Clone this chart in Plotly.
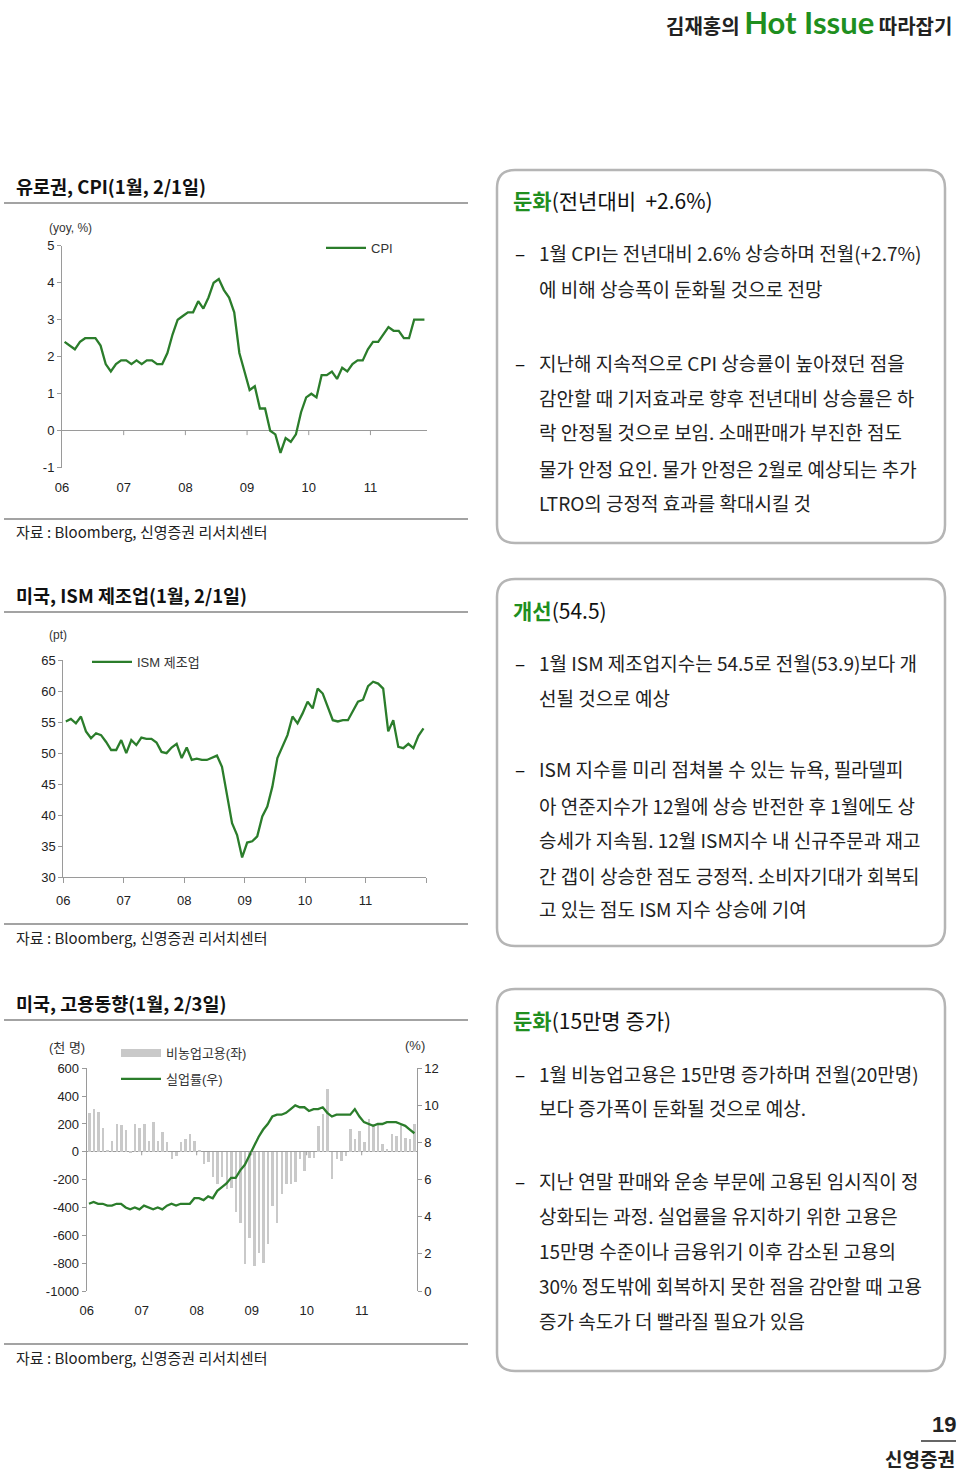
import plotly.graph_objects as go

W, H = 960, 1471
def px(x): return x / W
def py(y): return 1 - y / H

GREEN = '#2b7d2b'
HEAD_GREEN = '#1f8f1f'
AX = '#9a9a9a'
NUMFONT = 'Liberation Sans, Arial, Noto Sans CJK KR'
KR = 'Noto Sans CJK KR'

# ---------------- data ----------------
years = ['06', '07', '08', '09', '10', '11']

# Euro area CPI yoy (%) Jan-06 .. Nov-11
cpi = [2.4, 2.3, 2.2, 2.4, 2.5, 2.5, 2.5, 2.3, 1.8, 1.6, 1.8, 1.9,
       1.9, 1.8, 1.9, 1.8, 1.9, 1.9, 1.8, 1.8, 2.1, 2.6, 3.0, 3.1,
       3.2, 3.2, 3.5, 3.3, 3.6, 4.0, 4.1, 3.8, 3.6, 3.2, 2.1, 1.6,
       1.1, 1.2, 0.6, 0.6, 0.0, -0.1, -0.6, -0.2, -0.3, -0.1, 0.5, 0.9,
       1.0, 0.9, 1.5, 1.5, 1.6, 1.4, 1.7, 1.6, 1.8, 1.9, 1.9, 2.2,
       2.4, 2.4, 2.6, 2.8, 2.7, 2.7, 2.5, 2.5, 3.0, 3.0, 3.0]

# US ISM manufacturing (pt) Jan-06 .. Dec-11
ism = [55.1, 55.5, 54.8, 55.9, 53.5, 52.4, 53.2, 52.9, 51.8, 50.5, 50.5, 52.1,
       50.0, 52.1, 51.3, 52.5, 52.3, 52.3, 51.7, 50.2, 50.0, 50.9, 51.5, 49.2,
       50.9, 48.9, 49.1, 48.9, 48.9, 49.2, 49.6, 47.8, 43.5, 38.7, 36.8, 33.2,
       35.6, 35.8, 36.6, 39.8, 41.4, 44.6, 49.2, 51.0, 52.9, 55.9, 54.8, 56.4,
       58.3, 57.2, 60.4, 59.6, 57.6, 55.3, 55.1, 55.3, 55.3, 56.9, 58.3, 58.6,
       60.8, 61.5, 61.2, 60.4, 53.5, 55.3, 51.0, 50.8, 51.5, 50.8, 52.8, 54.0]

# US nonfarm payrolls change (thousand) Jan-06 .. Dec-11
payrolls = [275, 307, 283, 172, 5, 77, 196, 187, 153, -12, 201, 172,
            196, 77, 211, 77, 139, 67, -53, -29, 67, 91, 125, 77,
            7, -91, -77, -184, -235, -184, -268, -260, -438, -510, -810, -618,
            -821, -726, -798, -666, -390, -510, -307, -235, -235, -220, -53, -137,
            -43, -43, 184, 268, 448, -199, -55, -67, -31, 160, 89, 148,
            65, 235, 196, 196, 53, 17, 125, 108, 196, 100, 91, 196]

# US unemployment rate (%)
unemp = [4.7, 4.8, 4.7, 4.7, 4.6, 4.6, 4.7, 4.7, 4.5, 4.4, 4.5, 4.4,
         4.6, 4.5, 4.4, 4.5, 4.4, 4.6, 4.7, 4.6, 4.7, 4.7, 4.7, 5.0,
         5.0, 4.9, 5.1, 5.0, 5.4, 5.6, 5.8, 6.1, 6.1, 6.5, 6.8, 7.3,
         7.8, 8.3, 8.7, 9.0, 9.4, 9.5, 9.5, 9.6, 9.8, 10.0, 9.9, 9.9,
         9.7, 9.8, 9.8, 9.9, 9.6, 9.4, 9.5, 9.5, 9.5, 9.5, 9.8, 9.4,
         9.1, 9.0, 8.9, 9.0, 9.0, 9.1, 9.1, 9.1, 9.0, 8.9, 8.7, 8.5]

cpi_ticks = [-1, 0, 1, 2, 3, 4, 5]
ism_ticks = [30, 35, 40, 45, 50, 55, 60, 65]
pay_ticks = [-1000, -800, -600, -400, -200, 0, 200, 400, 600]
ur_ticks = [0, 2, 4, 6, 8, 10, 12]

year_bounds = [-0.5 + 12 * k for k in range(7)]

fig = go.Figure()

# ---------------- traces ----------------
fig.add_trace(go.Scatter(x=list(range(len(cpi))), y=cpi, mode='lines', name='CPI',
                         line=dict(color=GREEN, width=2.3), xaxis='x', yaxis='y',
                         legend='legend'))
fig.add_trace(go.Scatter(x=list(range(len(ism))), y=ism, mode='lines', name='ISM 제조업',
                         line=dict(color=GREEN, width=2.3), xaxis='x2', yaxis='y2',
                         legend='legend2'))
fig.add_trace(go.Bar(x=list(range(len(payrolls))), y=payrolls, name='비농업고용(좌)',
                     marker=dict(color='#c9c9c9', line=dict(width=0)), width=0.55,
                     xaxis='x3', yaxis='y3', showlegend=False))
fig.add_trace(go.Scatter(x=[None], y=[None], mode='lines', name='비농업고용(좌)',
                         line=dict(color='#c9c9c9', width=8), xaxis='x3', yaxis='y3',
                         legend='legend3'))
fig.add_trace(go.Scatter(x=list(range(len(unemp))), y=unemp, mode='lines', name='실업률(우)',
                         line=dict(color=GREEN, width=2.3), xaxis='x3', yaxis='y4',
                         legend='legend4'))

tickfont = dict(family=NUMFONT, size=13, color='#222')

def xax(dom, rng, ticks, tlen):
    return dict(domain=dom, range=rng, tickvals=year_bounds[:6] if ticks == '' else year_bounds,
                ticktext=years if ticks == '' else years + [''],
                ticks=ticks, ticklen=tlen, tickcolor=AX, showgrid=False, zeroline=False,
                showline=(ticks != ''), linecolor=AX, linewidth=1, tickfont=tickfont,
                ticklabelstandoff=10 if ticks == '' else 6, fixedrange=True)

def yax(dom, vals, **kw):
    d = dict(range=[vals[0], vals[-1]], tickvals=vals, ticktext=[str(v) for v in vals],
             showline=True, linecolor=AX, ticks='outside', ticklen=4, tickcolor=AX,
             showgrid=False, zeroline=False, tickfont=tickfont)
    if dom is not None:
        d['domain'] = dom
    d.update(kw)
    return d

layout = dict(
    width=W, height=H, autosize=False,
    margin=dict(l=0, r=0, t=0, b=0, autoexpand=False),
    paper_bgcolor='white', plot_bgcolor='rgba(0,0,0,0)',
    showlegend=True,
    bargap=0,
    xaxis=xax([px(62), px(427)], [-0.5, 70.5], '', 0),
    yaxis=yax([py(467.7), py(245.7)], cpi_ticks, anchor='x', zeroline=True,
              zerolinecolor=AX, zerolinewidth=1),
    xaxis2=dict(xax([px(63.3), px(426)], [-0.5, 71.5], 'outside', 5), anchor='y2'),
    yaxis2=yax([py(877.3), py(660)], ism_ticks, anchor='x2'),
    xaxis3=dict(xax([px(86.7), px(416.7)], [-0.5, 71.5], '', 0), anchor='y3'),
    yaxis3=yax([py(1291), py(1068.3)], pay_ticks, anchor='x3', zeroline=True,
               zerolinecolor=AX, zerolinewidth=1),
    yaxis4=yax(None, ur_ticks, overlaying='y3', side='right', anchor='x3'),
)
legfont = dict(family=NUMFONT, size=13, color='#333')
for name, (lx, ly) in {'legend': (321, 248), 'legend2': (87, 662),
                       'legend3': (116, 1053), 'legend4': (116, 1079)}.items():
    layout[name] = dict(x=px(lx), y=py(ly), xanchor='left', yanchor='middle',
                        bgcolor='rgba(0,0,0,0)', borderwidth=0, font=legfont,
                        itemwidth=40, tracegroupgap=0)
fig.update_layout(**layout)

# ---------------- shapes ----------------
shapes = []
def hline(x0, x1, y, color='#a3a3a3', width=2):
    shapes.append(dict(type='line', xref='paper', yref='paper', x0=px(x0), x1=px(x1),
                       y0=py(y), y1=py(y), line=dict(color=color, width=width)))

for y in (203, 519, 612, 924, 1020, 1344):
    hline(4, 468, y)

def rrect(x0, y0, x1, y1, r):
    rx, ry = r / W, r / H
    X0, X1, Y0, Y1 = px(x0), px(x1), py(y0), py(y1)
    p = (f"M {X0+rx},{Y0} L {X1-rx},{Y0} Q {X1},{Y0} {X1},{Y0-ry} "
         f"L {X1},{Y1+ry} Q {X1},{Y1} {X1-rx},{Y1} L {X0+rx},{Y1} "
         f"Q {X0},{Y1} {X0},{Y1+ry} L {X0},{Y0-ry} Q {X0},{Y0} {X0+rx},{Y0} Z")
    shapes.append(dict(type='path', xref='paper', yref='paper', path=p,
                       line=dict(color='#b5b5b5', width=2.5), fillcolor='rgba(0,0,0,0)'))

rrect(497, 170, 945, 543, 18)
rrect(497, 579, 945, 946, 18)
rrect(497, 989, 945, 1371, 18)

# year tick marks on zero lines
for b in year_bounds[1:6]:
    shapes.append(dict(type='line', xref='x', yref='y', x0=b, x1=b, y0=0, y1=-0.12,
                       line=dict(color=AX, width=1)))
    shapes.append(dict(type='line', xref='x3', yref='y3', x0=b, x1=b, y0=0, y1=-25,
                       line=dict(color=AX, width=1)))

# page number rule
hline(921, 956, 1441, color='#333', width=1.5)
fig.update_layout(shapes=shapes)

# ---------------- text ----------------
ann = []
def text(x, y, t, size, xanchor='left', color='#111', family=KR, yanchor='middle'):
    ann.append(dict(x=px(x), y=py(y), xref='paper', yref='paper', text=t, showarrow=False,
                    xanchor=xanchor, yanchor=yanchor, align='left',
                    font=dict(size=size, color=color, family=family)))

# header
text(954, 22, "<b>김재홍의 </b><span style='color:#1f8f1f;font-size:31px;font-family:Lato'><b>Hot Issue</b></span><b> 따라잡기</b>",
     20, xanchor='right', color='#222')

# chart titles & sources
for y, t in ((186, '유로권, CPI(1월, 2/1일)'), (595, '미국, ISM 제조업(1월, 2/1일)'),
             (1003, '미국, 고용동향(1월, 2/3일)')):
    text(14, y, f'<b>{t}</b>', 18.5, color='#111')
for y in (532, 937, 1357):
    text(14, y, '자료 : Bloomberg, 신영증권 리서치센터', 15, color='#222')

# unit labels
text(70, 228, '(yoy, %)', 12, xanchor='center', color='#333', family=NUMFONT)
text(58, 635, '(pt)', 12, xanchor='center', color='#333', family=NUMFONT)
text(67, 1047, '(천 명)', 13, xanchor='center', color='#333', family=NUMFONT)
text(415, 1045, '(%)', 13, xanchor='center', color='#333', family=NUMFONT)

# text boxes
def head(y, word, rest):
    text(511, y, f"<b><span style='color:{HEAD_GREEN}'>{word}</span></b>{rest}", 21, color='#111')

def body(ys, lines, dash_idx):
    for i, (y, ln) in enumerate(zip(ys, lines)):
        if i in dash_idx:
            text(513, y, '–', 19, color='#111')
        text(537, y, ln, 19, color='#222')

head(200, '둔화', '(전년대비  +2.6%)')
body([253, 288, 362, 397, 432, 468, 503],
     ['1월 CPI는 전년대비 2.6% 상승하며 전월(+2.7%)',
      '에 비해 상승폭이 둔화될 것으로 전망',
      '지난해 지속적으로 CPI 상승률이 높아졌던 점을',
      '감안할 때 기저효과로 향후 전년대비 상승률은 하',
      '락 안정될 것으로 보임. 소매판매가 부진한 점도',
      '물가 안정 요인. 물가 안정은 2월로 예상되는 추가',
      'LTRO의 긍정적 효과를 확대시킬 것'], {0, 2})

head(610, '개선', '(54.5)')
body([662, 697, 768, 805, 840, 875, 908],
     ['1월 ISM 제조업지수는 54.5로 전월(53.9)보다 개',
      '선될 것으로 예상',
      'ISM 지수를 미리 점쳐볼 수 있는 뉴욕, 필라델피',
      '아 연준지수가 12월에 상승 반전한 후 1월에도 상',
      '승세가 지속됨. 12월 ISM지수 내 신규주문과 재고',
      '간 갭이 상승한 점도 긍정적. 소비자기대가 회복되',
      '고 있는 점도 ISM 지수 상승에 기여'], {0, 2})

head(1020, '둔화', '(15만명 증가)')
body([1073, 1107, 1180, 1215, 1250, 1285, 1320],
     ['1월 비농업고용은 15만명 증가하며 전월(20만명)',
      '보다 증가폭이 둔화될 것으로 예상.',
      '지난 연말 판매와 운송 부문에 고용된 임시직이 정',
      '상화되는 과정. 실업률을 유지하기 위한 고용은',
      '15만명 수준이나 금융위기 이후 감소된 고용의',
      '30% 정도밖에 회복하지 못한 점을 감안할 때 고용',
      '증가 속도가 더 빨라질 필요가 있음'], {0, 2})

# page footer
text(944, 1424, '<b>19</b>', 22, xanchor='center', color='#222', family=NUMFONT)
text(920, 1458, '<b>신영증권</b>', 19, xanchor='center', color='#222')

fig.update_layout(annotations=ann)
fig.write_html('out.html')
